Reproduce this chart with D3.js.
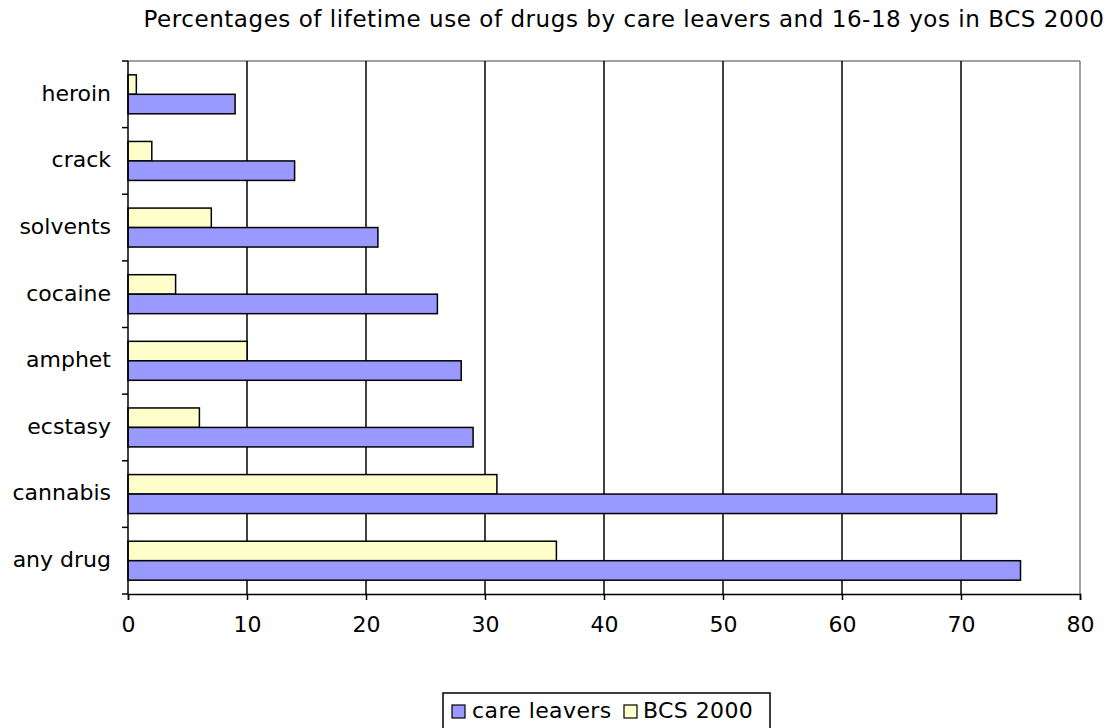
<!DOCTYPE html>
<html><head><meta charset="utf-8">
<script src="https://cdn.jsdelivr.net/npm/d3@7"></script>
<style>body{margin:0;background:#fff;} text{font-family:"DejaVu Sans",Verdana,sans-serif;fill:#000;}</style>
</head><body><svg id="c" width="1115" height="728"></svg>
<script>
const categories = ["heroin","crack","solvents","cocaine","amphet","ecstasy","cannabis","any drug"];
const careLeavers = [9,14,21,26,28,29,73,75];
const bcs2000 = [0.7,2,7,4,10,6,31,36];
const xTicks = [0,10,20,30,40,50,60,70,80];
const seriesNames = ["care leavers","BCS 2000"];
const colors = ["#9999FF","#FFFFCC"];

const svg = d3.select("#c");
const L=128,R=1080,T=61,B=594;
const x = d3.scaleLinear().domain([0,80]).range([L,R]);
const y = d3.scaleBand().domain(categories).range([T,B]);
const band = y.bandwidth();
const barH = band/3.42;
const pad = (band-2*barH)/2;
const FS = "22px";

svg.append("text").attr("x",624).attr("y",27).attr("text-anchor","middle")
  .style("font-size","23px").style("letter-spacing","0.55px")
  .text("Percentages of lifetime use of drugs by care leavers and 16-18 yos in BCS 2000");

// plot border (gray top/right)
svg.append("line").attr("x1",L).attr("x2",R).attr("y1",T).attr("y2",T).attr("stroke","#808080").attr("stroke-width",1.5);
svg.append("line").attr("x1",R).attr("x2",R).attr("y1",T).attr("y2",B).attr("stroke","#808080").attr("stroke-width",1.5);
// gridlines
svg.selectAll(".g").data(xTicks.filter(d=>d>0&&d<80)).enter().append("line")
  .attr("x1",d=>x(d)).attr("x2",d=>x(d)).attr("y1",T).attr("y2",B).attr("stroke","#000").attr("stroke-width",1.5);

const rows = categories.map((c,i)=>({c,care:careLeavers[i],bcs:bcs2000[i]}));
svg.selectAll(".b1").data(rows).enter().append("rect")
  .attr("x",L).attr("y",d=>y(d.c)+pad).attr("width",d=>x(d.bcs)-L).attr("height",barH)
  .attr("fill",colors[1]).attr("stroke","#000").attr("stroke-width",1.5);
svg.selectAll(".b2").data(rows).enter().append("rect")
  .attr("x",L).attr("y",d=>y(d.c)+pad+barH).attr("width",d=>x(d.care)-L).attr("height",barH)
  .attr("fill",colors[0]).attr("stroke","#000").attr("stroke-width",1.5);

// axes
const xa = svg.append("g").attr("transform",`translate(0,${B})`)
  .call(d3.axisBottom(x).tickValues(xTicks).tickSize(6).tickPadding(16));
xa.select(".domain").attr("stroke-width",1.5);
xa.selectAll(".tick line").attr("stroke-width",1.5);
xa.selectAll("text").style("font-size",FS).attr("font-family","DejaVu Sans");

const ya = svg.append("g").attr("transform",`translate(${L},0)`);
ya.append("line").attr("x1",0).attr("x2",0).attr("y1",T).attr("y2",B).attr("stroke","#000").attr("stroke-width",1.5);
const bounds = categories.map(c=>y(c)).concat([B]);
ya.selectAll(".t").data(bounds).enter().append("line").attr("x1",-6).attr("x2",0)
  .attr("y1",d=>d).attr("y2",d=>d).attr("stroke","#000").attr("stroke-width",1.5);
ya.selectAll(".l").data(categories).enter().append("text")
  .attr("x",-17).attr("y",d=>y(d)+band/2).attr("dy","0.29em").attr("text-anchor","end")
  .style("font-size",FS).text(d=>d);

// legend
const lg = svg.append("g");
lg.append("rect").attr("x",443).attr("y",693).attr("width",327).attr("height",45).attr("fill","#fff").attr("stroke","#000").attr("stroke-width",1.5);
const items = [{n:seriesNames[0],c:colors[0],x:452,tx:472},{n:seriesNames[1],c:colors[1],x:624,tx:643}];
items.forEach(it=>{
  lg.append("rect").attr("x",it.x).attr("y",705).attr("width",13).attr("height",13).attr("fill",it.c).attr("stroke","#000").attr("stroke-width",1.2);
  lg.append("text").attr("x",it.tx).attr("y",718).style("font-size",FS).style("letter-spacing","0.4px").text(it.n);
});
</script></body></html>
